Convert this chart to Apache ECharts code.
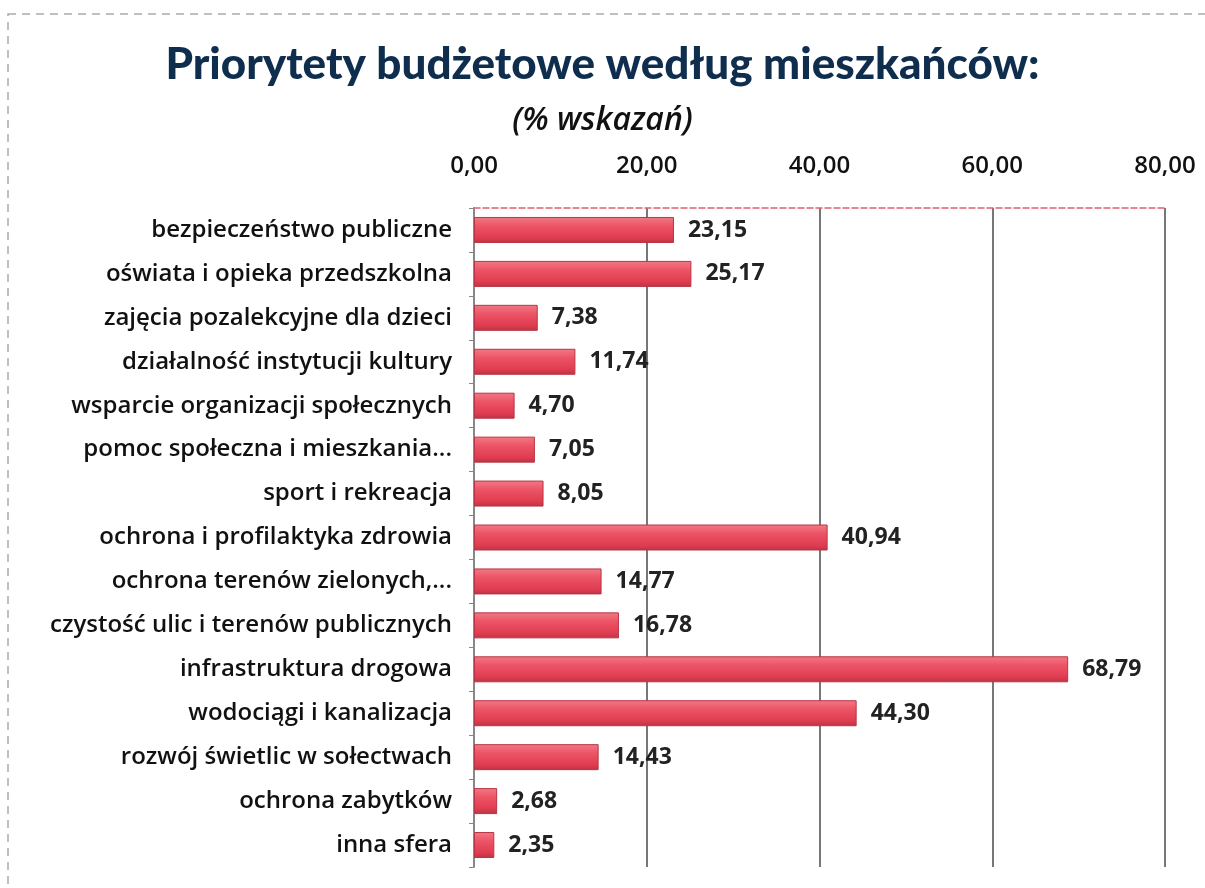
<!DOCTYPE html>
<html><head><meta charset="utf-8">
<script src="https://cdn.jsdelivr.net/npm/echarts@6/dist/echarts.min.js"></script>
<style>html,body{margin:0;padding:0;background:#fff}#c{width:1205px;height:888px}</style>
</head><body><div id="c"></div>
<script>
const categories = ["bezpieczeństwo publiczne","oświata i opieka przedszkolna","zajęcia pozalekcyjne dla dzieci","działalność instytucji kultury","wsparcie organizacji społecznych","pomoc społeczna i mieszkania...","sport i rekreacja","ochrona i profilaktyka zdrowia","ochrona terenów zielonych,...","czystość ulic i terenów publicznych","infrastruktura drogowa","wodociągi i kanalizacja","rozwój świetlic w sołectwach","ochrona zabytków","inna sfera"];
const values = [23.15,25.17,7.38,11.74,4.70,7.05,8.05,40.94,14.77,16.78,68.79,44.30,14.43,2.68,2.35];
const xTicks = [0,20,40,60,80];
const fmt = v => v.toFixed(2).replace('.', ',');
const chart = echarts.init(document.getElementById('c'));
chart.setOption({
  animation:false,
  backgroundColor:'#fff',
  title:[{text:'Priorytety budżetowe według mieszkańców:',left:'center',top:38,textStyle:{fontFamily:'Lato',fontSize:44,fontWeight:900,color:'#0f2e4e'}},
         {text:'(% wskazań)',left:'center',top:100,textStyle:{fontFamily:'Open Sans',fontSize:32,fontStyle:'italic',fontWeight:600,color:'#111'}}],
  graphic:[{type:'rect',shape:{x:8,y:14,width:1200,height:880},style:{fill:'none',stroke:'#aaa',lineWidth:1.5,lineDash:[8,6]}}],
  grid:{left:474,right:40,top:208,bottom:21},
  xAxis:{type:'value',position:'top',min:0,max:80,interval:20,
    axisLabel:{formatter:v=>fmt(v),fontFamily:'Open Sans',fontSize:24,fontWeight:600,color:'#111',margin:30},
    axisLine:{show:true,lineStyle:{color:'#e06070',type:'dashed',width:1.5}},
    axisTick:{show:false},
    splitLine:{show:true,lineStyle:{color:'#777',width:2}}},
  yAxis:{type:'category',inverse:true,data:categories,
    axisLabel:{fontFamily:'Open Sans',fontSize:24,fontWeight:600,color:'#111',margin:22},
    axisLine:{show:true,lineStyle:{color:'#888',width:2}},
    axisTick:{show:true,length:5,lineStyle:{color:'#888'}}},
  series:[{type:'bar',data:values,barWidth:26,
    itemStyle:{borderColor:'#b83545',borderWidth:1,
      color:new echarts.graphic.LinearGradient(0,0,0,1,[{offset:0,color:'#f27a86'},{offset:0.35,color:'#ec5466'},{offset:0.8,color:'#e03c50'},{offset:1,color:'#b83545'}])},
    label:{show:true,position:'right',distance:14,formatter:p=>fmt(p.value),fontFamily:'Open Sans',fontSize:23,fontWeight:'bold',color:'#222'}}]
});
</script></body></html>
